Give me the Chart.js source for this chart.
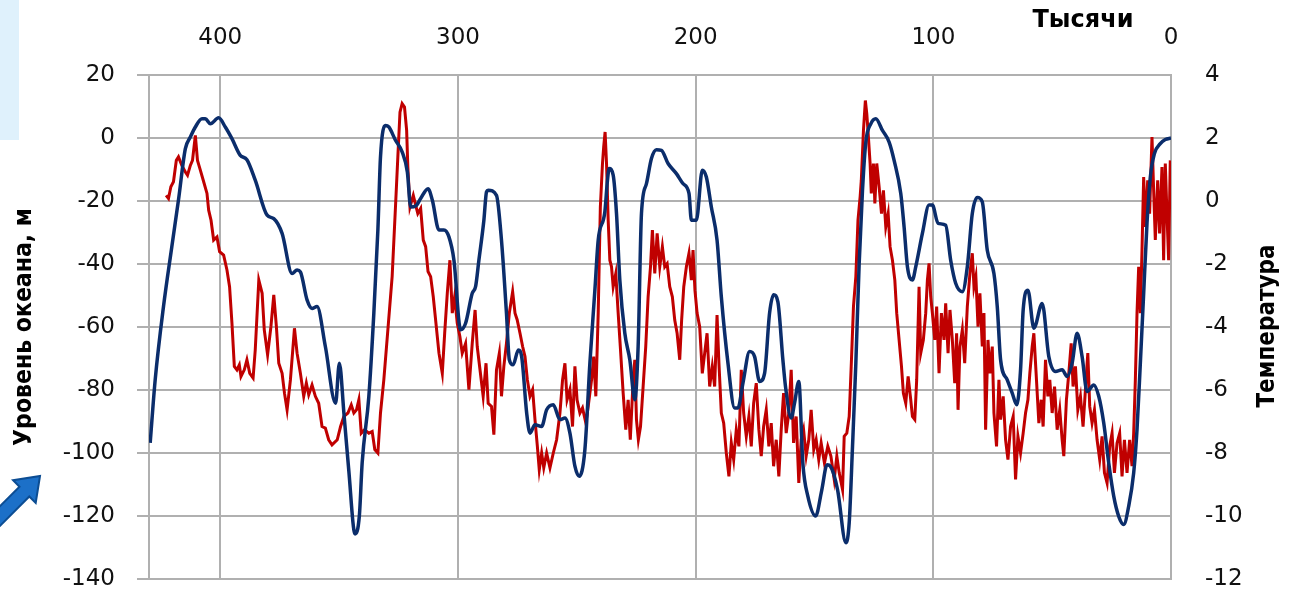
<!DOCTYPE html>
<html>
<head>
<meta charset="utf-8">
<script src="https://cdn.jsdelivr.net/npm/chart.js@4.4.1/dist/chart.umd.min.js"></script>
<style>
  html, body { margin: 0; padding: 0; background: #fff; }
  #wrap { width: 1299px; height: 590px; position: relative; }
</style>
</head>
<body>
<div id="wrap"><canvas id="chart" width="1299" height="590"></canvas></div>
<script>
// age in thousands of years, sea level in m (left axis)
const seaAge = [429.5, 427.4, 423.9, 420.4, 417.6, 414.7, 412.6, 410.5, 407.7, 406.3, 404.2, 400.7, 397.9, 395.1, 391.6, 388.8, 385.3, 380.3, 377.5, 374.0, 369.8, 367.7, 366.3, 363.5, 361.4, 359.3, 355.8, 351.5, 349.9, 348.0, 346.0, 343.3, 341.5, 340.3, 337.5, 335.4, 333.7, 332.6, 330.5, 329.1, 326.3, 323.5, 321.3, 319.9, 317.8, 315.7, 312.6, 310.8, 308.0, 305.9, 303.8, 301.7, 298.9, 296.8, 294.0, 292.6, 291.2, 289.1, 288.0, 287.3, 283.8, 281.7, 279.6, 278.4, 276.8, 274.6, 273.2, 271.1, 269.7, 267.6, 264.8, 262.7, 259.9, 257.1, 255.0, 252.9, 250.8, 249.0, 246.6, 244.5, 242.4, 241.0, 238.2, 237.1, 236.4, 234.7, 233.3, 231.9, 229.8, 227.7, 225.6, 224.2, 222.8, 220.7, 218.6, 216.5, 214.4, 211.6, 208.1, 205.3, 202.8, 201.8, 199.7, 197.2, 195.5, 193.4, 191.0, 189.2, 186.4, 183.6, 182.2, 180.1, 177.3, 175.2, 173.1, 171.0, 168.9, 167.2, 165.4, 163.3, 162.2, 159.8, 158.4, 156.6, 154.9, 152.8, 149.5, 147.0, 144.7, 143.3, 140.3, 136.8, 135.4, 134.0, 132.6, 131.2, 129.8, 128.4, 126.3, 124.2, 121.4, 118.6, 116.5, 113.7, 112.3, 110.9, 108.8, 107.4, 104.6, 101.8, 100.4, 98.0, 94.8, 92.7, 90.6, 87.8, 85.7, 83.6, 81.5, 79.4, 77.3, 74.5, 73.1, 71.7, 68.9, 66.8, 64.9, 63.3, 62.2, 60.2, 57.7, 54.2, 51.4, 48.6, 45.8, 43.7, 41.6, 39.5, 37.4, 35.3, 32.5, 30.4, 28.3, 26.2, 24.1, 22.0, 19.9, 17.8, 15.7, 14.3, 12.9, 11.5, 10.1, 8.7, 7.0, 4.5, 2.4, 0];
const seaLevel = [-96.8, -76.8, -53.5, -34.5, -19.7, -3.4, 0.3, 3.5, 6.1, 6.1, 4.5, 6.4, 3.5, -0.2, -5.5, -6.9, -13.4, -24.5, -25.6, -30.3, -43.0, -41.9, -42.5, -51.4, -54.1, -53.5, -66.2, -84.2, -71.5, -87.3, -105, -125.7, -120, -103, -82, -55.6, -29.2, -6, 4, 3.5, -0.7, -4.4, -10.8, -21.9, -21.6, -19.2, -16.1, -19.7, -29.2, -29.2, -31.4, -38.8, -60.9, -58.8, -49.3, -47.2, -38.8, -26.1, -17.1, -16.6, -18.2, -32.4, -55.6, -70.4, -72, -67.3, -69.4, -87.3, -93.7, -91, -91.6, -86.3, -84.7, -89.4, -88.9, -93.7, -104.2, -107.4, -98.9, -71.5, -48.3, -32.4, -23.4, -13.4, -9.7, -11.8, -24, -45.1, -62, -70.4, -83.1, -66.2, -24, -14.5, -6.5, -3.7, -3.9, -8.1, -11.3, -14.5, -17.6, -26.1, -26.1, -10.2, -12.4, -21.9, -32.4, -50.4, -71.5, -85.7, -85.7, -77.8, -67.8, -69.4, -77.3, -74.7, -55.6, -49.8, -52, -70.4, -78.9, -88.9, -84.2, -77.3, -103.2, -113.7, -120, -112, -103.7, -104.2, -111.6, -128.5, -122.2, -97.9, -71.5, -39.8, -16.6, -1.3, 4.5, 6.1, 2.4, -1.3, -7.1, -17.6, -28.2, -40.9, -45.1, -40.9, -30.3, -21.3, -21.3, -27.1, -27.7, -38.8, -46.1, -48.8, -40.9, -24, -18.9, -20.3, -35.6, -43, -53.5, -70.4, -76.8, -81, -84.7, -73.6, -54.6, -48.3, -60.4, -52.5, -69.4, -74.1, -73.6, -75.7, -71.5, -62, -69.4, -80.5, -78.4, -82, -90.5, -103.2, -113.7, -120.1, -122.7, -116.9, -106.3, -92.6, -71.5, -49.3, -27.1, -12.4, -5, -1.8, -0.5, 0];

// age in thousands of years, temperature anomaly (right axis)
const tempAge = [422.8, 421.8, 420.8, 419.7, 418.5, 417.6, 416.2, 414.7, 413.8, 412.6, 411.7, 410.5, 409.6, 408.4, 407.0, 405.6, 404.9, 403.9, 402.8, 401.4, 400.3, 398.6, 397.2, 396.1, 395.1, 394.1, 393.0, 392.0, 391.3, 389.9, 388.8, 387.6, 386.2, 385.3, 383.8, 382.4, 381.5, 380.1, 378.7, 377.5, 376.4, 375.4, 374.0, 373.0, 371.9, 370.5, 368.8, 367.7, 366.3, 364.9, 363.8, 362.8, 361.4, 360.0, 358.6, 357.2, 355.8, 354.4, 353.0, 350.8, 349.4, 348.0, 346.3, 344.9, 343.8, 342.7, 341.7, 340.7, 339.3, 337.5, 336.1, 335.0, 333.7, 332.6, 331.2, 329.5, 327.7, 326.3, 325.3, 324.4, 323.5, 322.5, 321.6, 321.1, 320.2, 318.8, 317.8, 316.9, 315.7, 314.6, 313.6, 312.6, 311.5, 310.4, 309.4, 308.0, 306.6, 305.6, 304.5, 303.4, 302.4, 301.4, 300.3, 299.2, 298.2, 296.8, 295.4, 294.0, 292.8, 291.9,
  289.4, 288.2, 287.3, 285.9, 284.9, 283.8, 282.6, 281.7, 280.7, 279.6, 278.4, 277.0, 276.0, 275.1, 273.9, 272.8, 271.8, 270.8, 269.7, 268.6, 267.6, 266.6, 265.8, 264.8, 263.9, 262.7, 261.3, 259.9, 258.5, 257.1, 256.0, 255.0, 254.1, 252.9, 251.8, 250.8, 249.9, 248.7, 247.6, 246.2, 245.2, 243.8, 242.9, 242.0, 241.0, 240.1, 239.2, 238.7, 238.1, 237.5, 236.8, 236.1, 235.4, 234.7, 233.6, 232.6, 231.7, 230.5, 229.4, 228.4, 227.5, 226.3, 225.6, 224.9, 224.1, 223.2, 222.1, 221.0, 220.0, 219.0, 218.2, 217.2, 216.2, 215.1, 214.0, 213.0, 212.0, 210.9, 209.8, 208.8, 207.8, 206.7, 205.9, 205.0, 203.9, 202.8, 201.8, 201.1, 200.3, 199.4, 198.3, 197.2, 196.2, 195.2, 194.1, 193.0, 192.0, 191.0, 190.2, 189.2, 188.2, 187.1, 186.0, 185.0, 184.0, 182.9, 181.8, 180.8, 179.8, 178.7, 177.6, 176.6, 175.6, 174.5, 173.4, 172.4, 171.4, 170.3, 169.2, 168.2, 167.2, 166.1, 165.0, 164.0, 163.0, 161.9, 160.8, 159.8, 158.8, 157.7, 156.6, 155.6, 154.6, 153.5, 152.4, 151.4, 150.3, 149.3, 148.2, 147.2, 145.8, 144.4,
  143.1, 141.7, 140.6, 139.6, 138.2, 137.5, 136.4, 135.4, 134.5, 133.6, 132.6, 131.7, 130.8, 130.3, 129.4, 128.6, 128.0, 127.5, 126.6, 126.1, 125.2, 124.6, 123.8, 122.8, 121.8, 121.0, 120.0, 119.0, 118.2, 117.2, 116.2, 115.4, 114.4, 113.4, 112.6, 111.6, 110.6, 109.5, 108.8, 107.8, 107.0, 106.0, 105.3, 104.2, 103.2, 102.5, 101.8, 101.1, 100.4, 99.4, 98.6, 97.6, 96.6, 95.5, 94.8, 93.8, 93.0, 92.0, 91.0, 90.2, 89.6, 88.8, 87.8, 86.8, 85.7, 84.6, 83.6, 82.9, 82.1, 81.2, 80.4, 79.4, 78.7, 78.0, 77.0, 76.2, 75.2, 74.5, 73.4, 72.4, 71.7, 70.6, 69.6, 68.6, 67.5, 66.4, 65.4, 64.4, 63.3, 62.2, 61.2, 60.2, 59.4, 58.4, 57.7, 56.6, 55.6, 54.6, 53.8, 52.8, 51.8, 51.0, 50.0, 49.0, 47.9, 46.8, 45.8, 45.1, 44.0, 43.0, 42.0, 41.2, 40.2, 39.2, 38.1, 37.0, 36.0, 35.0, 34.2, 33.2, 32.2, 31.1, 30.0, 29.0, 28.0, 26.9, 25.8, 24.8, 23.8, 22.7, 21.6, 20.6, 19.6, 18.5, 17.4, 16.4, 15.7, 15.0, 14.3, 13.6, 12.9, 12.2, 11.5, 10.8, 9.8, 9.0, 8.0, 7.3, 6.6, 5.6, 4.8, 3.8, 3.1, 2.4, 1.7, 1.0, 0.3];
const tempValue = [0.18, 0.08, 0.45, 0.61, 1.29, 1.4, 1.13, 0.92, 0.82, 1.13, 1.29, 2.08, 1.29, 0.98, 0.61, 0.24, -0.29, -0.61, -1.24, -1.14, -1.61, -1.72, -2.19, -2.72, -3.88, -5.25, -5.36, -5.2, -5.57, -5.36, -5.04, -5.47, -5.62, -4.73, -2.51, -2.93, -4.09, -4.88, -3.99, -2.98, -3.99, -5.15, -5.47, -6.1, -6.63, -5.68, -4.04, -4.83, -5.47, -6.2, -5.78, -6.15, -5.84, -6.2, -6.42, -7.16, -7.21, -7.58, -7.74, -7.58, -7.16, -6.84, -6.73, -6.47, -6.73, -6.63, -6.31, -7.37, -7.26, -7.37, -7.32, -7.89, -8, -6.73, -5.68, -4.09, -2.4, -0.19, 1.4, 2.82, 3.09, 2.98, 2.24, 1.08, -0.19, 0.18, -0.13, -0.4, -0.24, -1.24, -1.45, -2.24, -2.4, -3.04, -3.78, -4.83, -5.47, -4.2, -2.93, -1.88, -3.56, -3.04, -3.88, -4.3, -4.83, -4.52, -5.99, -4.52, -3.46, -4.62,
  -6.2, -5.15, -6.42, -6.52, -7.42, -5.36, -4.83, -6.2, -5.25, -4.52, -3.56, -2.88, -3.56, -3.77, -4.2, -4.62, -4.94, -5.68, -6.2, -5.99, -6.94, -7.79, -8.53, -8, -8.47, -8, -8.47, -8, -7.58, -6.73, -5.68, -5.15, -6.31, -5.99, -7.16, -5.25, -6.31, -6.73, -6.57, -7.05, -6.52, -5.68, -4.94, -6.2, -3.56, -0.19, 1.19, 1.71, 2.19, 1.19, -0.61, -1.88, -2.09, -2.72, -2.3, -3.56, -4.62, -6.1, -7.26, -6.31, -7.58, -5.68, -5.04, -6.94, -7.58, -7.16, -5.89, -4.62, -3.04, -2.09, -0.92, -2.3, -1.03, -2.09, -1.45, -2.09, -1.99, -2.72, -3.04, -3.78, -4.2, -5.04, -3.78, -2.72, -2.09, -1.66, -2.51, -1.56, -2.83, -3.56, -3.99, -5.47, -4.83, -4.2, -5.89, -5.25, -5.89, -3.62, -5.15, -6.73, -7.05, -8, -8.74, -7.68, -8.21, -7.26, -7.79, -5.36, -6.73, -7.47, -6.84, -7.79, -6.42, -5.78, -7.26, -8.1, -7.16, -6.63, -7.79, -7.05, -8.42, -7.58, -8.74, -7.26, -6.1, -7.37, -6.73, -5.36, -7.68, -6.84, -8.95, -7.58, -7.26, -8.1, -7.58, -6.63, -7.89, -7.58, -8.21, -7.68, -8.32, -7.79,
  -8.1, -8.84, -8.1, -8.63, -9.16, -7.47, -7.37, -6.84, -5.15, -3.35, -2.4, -0.61, 0.13, 0.66, 2.24, 3.19, 2.77, 2.24, 1.19, 0.24, 1.19, -0.08, 1.19, 0.45, -0.4, 0.34, -0.82, -0.4, -1.45, -1.88, -2.51, -3.56, -4.41, -5.25, -6.1, -6.42, -5.57, -6.31, -6.84, -6.94, -5.68, -2.72, -4.83, -4.41, -3.56, -2.51, -1.98, -3.04, -3.56, -4.41, -3.35, -5.47, -3.56, -4.41, -3.25, -4.83, -3.46, -4.41, -5.78, -4.2, -6.63, -4.62, -4.09, -5.15, -3.35, -2.3, -1.66, -2.72, -2.4, -3.99, -2.93, -4.62, -3.56, -7.26, -4.41, -5.47, -4.62, -6.73, -7.79, -5.68, -6.94, -6.2, -7.58, -8.21, -7.16, -6.84, -8.84, -7.47, -8, -7.37, -6.73, -6.31, -5.47, -4.62, -4.2, -5.68, -7.05, -6.31, -7.16, -5.04, -6.2, -5.68, -6.73, -5.89, -7.26, -6.63, -7.58, -8.1, -6.31, -5.47, -4.52, -5.89, -5.25, -6.63, -6.2, -7.16, -5.99, -4.83, -6.52, -7.05, -6.63, -7.58, -8.21, -7.47, -8.63, -8.95, -7.79, -7.37, -8.63, -7.68, -7.37, -8.74, -7.58, -8.63, -7.58, -8.42, -7.37, -5.68, -3.56, -2.09, -3.56, -1.56, 0.76, -0.82, 0.66, -0.4, 2.03, 0.34, -1.24, 0.66, -1.03, 1.08, -1.88, 1.19, -0.4, -1.88, 1.29];

const xTicks = [0, 100, 200, 300, 400];
const xMax = 430;

const tickFont = { family: "'DejaVu Sans', sans-serif", size: 23 };
const titleFamily = "'Liberation Sans Narrow', 'DejaVu Sans Condensed', sans-serif";
const gridColor = '#b0b0b0';

const decor = {
    id: 'decor',
    beforeDraw(chart) {
        const ctx = chart.ctx;
        ctx.save();
        ctx.fillStyle = '#ffffff';
        ctx.fillRect(0, 0, chart.width, chart.height);
        ctx.fillStyle = '#dff1fc';
        ctx.fillRect(0, 0, 19, 140);
        ctx.restore();
    },
    afterDraw(chart) {
        const ctx = chart.ctx;
        ctx.save();
        // blue arrow bottom-left
        ctx.beginPath();
        ctx.moveTo(40, 476);
        ctx.lineTo(35.7, 502.9);
        ctx.lineTo(29.3, 496.5);
        ctx.lineTo(-13.1, 538.9);
        ctx.lineTo(-22.9, 529.1);
        ctx.lineTo(19.5, 486.7);
        ctx.lineTo(13.1, 480.3);
        ctx.closePath();
        ctx.fillStyle = '#1c70c8';
        ctx.fill();
        ctx.lineWidth = 2;
        ctx.strokeStyle = '#0c4d93';
        ctx.stroke();
        // x units label
        ctx.fillStyle = '#000';
        ctx.font = "bold 24px 'DejaVu Sans', sans-serif";
        ctx.textAlign = 'center';
        ctx.textBaseline = 'middle';
        ctx.fillText('Тысячи', 1083, 21);
        // right axis title
        ctx.translate(1268, 326);
        ctx.rotate(-Math.PI / 2);
        ctx.font = "bold 24px " + titleFamily;
        ctx.fillText('Температура', 0, 0);
        ctx.restore();
    }
};

new Chart(document.getElementById('chart'), {
    type: 'line',
    plugins: [decor],
    data: {
        datasets: [
            {
                label: 'Уровень океана',
                data: seaAge.map((a, i) => ({ x: a, y: seaLevel[i] })),
                borderColor: '#0b2d6b',
                borderWidth: 3.5,
                pointRadius: 0,
                cubicInterpolationMode: 'monotone',
                yAxisID: 'y',
            },
            {
                label: 'Температура',
                data: tempAge.map((a, i) => ({ x: a, y: tempValue[i] })),
                borderColor: '#c00000',
                borderWidth: 3,
                pointRadius: 0,
                tension: 0,
                yAxisID: 'y2',
            },
        ],
    },
    options: {
        responsive: false,
        animation: false,
        devicePixelRatio: 1,
        layout: { padding: { top: 0, bottom: 11, left: 0, right: 0 } },
        plugins: { legend: { display: false }, tooltip: { enabled: false } },
        scales: {
            x: {
                type: 'linear',
                position: 'top',
                reverse: true,
                min: 0,
                max: xMax,
                afterBuildTicks: (s) => { s.ticks = xTicks.map((v) => ({ value: v })); },
                afterFit: (s) => { s.height = 75; s.paddingLeft = 0; s.paddingRight = 0; },
                grid: { color: gridColor, lineWidth: 2, drawTicks: false },
                border: { color: gridColor, width: 2 },
                ticks: { font: tickFont, color: '#111', padding: 23, maxRotation: 0 },
            },
            y: {
                position: 'left',
                min: -140,
                max: 20,
                afterFit: (s) => { s.width = 149; s.paddingTop = 0; s.paddingBottom = 0; },
                grid: { color: gridColor, lineWidth: 2, tickLength: 12 },
                border: { color: gridColor, width: 2 },
                ticks: { stepSize: 20, font: tickFont, color: '#111', padding: 22 },
                title: {
                    display: true,
                    text: 'Уровень океана, м',
                    font: { family: titleFamily, size: 24.5, weight: 'bold' },
                    color: '#000',
                    padding: { top: 10, bottom: 0 },
                },
            },
            y2: {
                position: 'right',
                min: -12,
                max: 4,
                afterFit: (s) => { s.width = 128; s.paddingTop = 0; s.paddingBottom = 0; },
                grid: { drawOnChartArea: false, drawTicks: false },
                border: { color: gridColor, width: 2 },
                ticks: { stepSize: 2, font: tickFont, color: '#111', padding: 34 },
            },
        },
    },
});
</script>
</body>
</html>
